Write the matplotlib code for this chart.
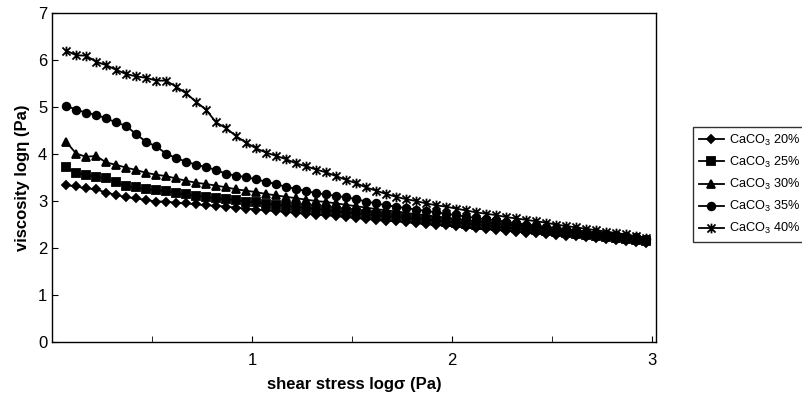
import matplotlib
matplotlib.use("Agg")
import matplotlib.pyplot as plt
from matplotlib.path import Path
from matplotlib.ticker import MultipleLocator

plt.rcParams['font.family'] = ['Liberation Sans', 'DejaVu Sans']

log_stress = [0.07, 0.12, 0.17, 0.22, 0.27, 0.32, 0.37, 0.42, 0.47, 0.52,
              0.57, 0.62, 0.67, 0.72, 0.77, 0.82, 0.87, 0.92, 0.97, 1.02,
              1.07, 1.12, 1.17, 1.22, 1.27, 1.32, 1.37, 1.42, 1.47, 1.52,
              1.57, 1.62, 1.67, 1.72, 1.77, 1.82, 1.87, 1.92, 1.97, 2.02,
              2.07, 2.12, 2.17, 2.22, 2.27, 2.32, 2.37, 2.42, 2.47, 2.52,
              2.57, 2.62, 2.67, 2.72, 2.77, 2.82, 2.87, 2.92, 2.97]

visc_20 = [3.34, 3.31, 3.27, 3.25, 3.18, 3.13, 3.08, 3.06, 3.02, 2.99,
           2.99, 2.96, 2.95, 2.93, 2.91, 2.90, 2.88, 2.86, 2.84, 2.82,
           2.80, 2.79, 2.77, 2.75, 2.73, 2.71, 2.70, 2.68, 2.66, 2.64,
           2.62, 2.60, 2.58, 2.57, 2.55, 2.53, 2.51, 2.49, 2.48, 2.46,
           2.44, 2.42, 2.40, 2.39, 2.37, 2.35, 2.33, 2.32, 2.30, 2.28,
           2.26, 2.25, 2.23, 2.21, 2.19, 2.17, 2.15, 2.13, 2.11]

visc_25 = [3.72, 3.60, 3.55, 3.52, 3.48, 3.41, 3.31, 3.29, 3.25, 3.23,
           3.21, 3.17, 3.14, 3.11, 3.09, 3.06, 3.04, 3.02, 2.99, 2.97,
           2.94, 2.92, 2.90, 2.87, 2.85, 2.83, 2.81, 2.78, 2.76, 2.74,
           2.72, 2.70, 2.68, 2.66, 2.64, 2.62, 2.60, 2.58, 2.56, 2.54,
           2.52, 2.50, 2.48, 2.46, 2.44, 2.42, 2.40, 2.38, 2.36, 2.34,
           2.32, 2.30, 2.28, 2.26, 2.24, 2.22, 2.20, 2.18, 2.16]

visc_30 = [4.26, 4.01, 3.94, 3.96, 3.82, 3.77, 3.71, 3.66, 3.60, 3.56,
           3.53, 3.48, 3.43, 3.39, 3.36, 3.33, 3.29, 3.25, 3.22, 3.19,
           3.15, 3.12, 3.09, 3.06, 3.03, 3.00, 2.98, 2.95, 2.92, 2.89,
           2.86, 2.83, 2.80, 2.78, 2.75, 2.72, 2.70, 2.67, 2.65, 2.62,
           2.60, 2.57, 2.55, 2.52, 2.50, 2.48, 2.45, 2.43, 2.41, 2.38,
           2.36, 2.34, 2.31, 2.29, 2.27, 2.25, 2.22, 2.20, 2.18]

visc_35 = [5.03, 4.94, 4.88, 4.83, 4.76, 4.67, 4.60, 4.42, 4.26, 4.16,
           4.01, 3.91, 3.84, 3.77, 3.72, 3.66, 3.58, 3.54, 3.51, 3.46,
           3.41, 3.36, 3.30, 3.26, 3.21, 3.17, 3.14, 3.11, 3.08, 3.04,
           2.99, 2.95, 2.91, 2.88, 2.85, 2.82, 2.79, 2.76, 2.73, 2.70,
           2.67, 2.64, 2.61, 2.59, 2.56, 2.53, 2.50, 2.48, 2.45, 2.43,
           2.40, 2.38, 2.35, 2.33, 2.30, 2.28, 2.25, 2.23, 2.20]

visc_40 = [6.20, 6.10, 6.09, 5.96, 5.89, 5.79, 5.70, 5.65, 5.62, 5.56,
           5.56, 5.43, 5.29, 5.11, 4.94, 4.67, 4.55, 4.38, 4.24, 4.12,
           4.03, 3.96, 3.89, 3.80, 3.74, 3.67, 3.61, 3.53, 3.45, 3.38,
           3.29, 3.22, 3.15, 3.09, 3.04, 3.00, 2.95, 2.91, 2.88, 2.84,
           2.80, 2.76, 2.73, 2.70, 2.66, 2.63, 2.60, 2.57, 2.54, 2.50,
           2.47, 2.44, 2.41, 2.38, 2.35, 2.32, 2.29, 2.25, 2.22]

labels = ["CaCO$_\\mathregular{3}$ 20%", "CaCO$_\\mathregular{3}$ 25%",
          "CaCO$_\\mathregular{3}$ 30%", "CaCO$_\\mathregular{3}$ 35%",
          "CaCO$_\\mathregular{3}$ 40%"]

star = Path([(-1, -1), (1, 1), (-1, 1), (1, -1), (0, -1.2), (0, 1.2)],
            [Path.MOVETO, Path.LINETO, Path.MOVETO, Path.LINETO,
             Path.MOVETO, Path.LINETO])

series = [visc_20, visc_25, visc_30, visc_35, visc_40]
markers = ['D', 's', '^', 'o', star]
msizes = [4.5, 5.5, 6, 5.5, 7]

fig = plt.figure(figsize=(8.02, 4.03), dpi=100)
ax = fig.add_axes([0.065, 0.151, 0.753, 0.817])

for ys, lab, m, ms in zip(series, labels, markers, msizes):
    ax.plot(log_stress, ys, color='black', lw=1.3, marker=m, ms=ms,
            mfc='black', mec='black', mew=1.3, label=lab)

ax.set_xlim(0, 3.02)
ax.set_ylim(0, 7)
ax.set_xticks([1, 2, 3])
ax.xaxis.set_minor_locator(MultipleLocator(0.5))
ax.set_yticks(range(0, 8))
ax.tick_params(axis='both', which='both', direction='in', labelsize=12)
ax.tick_params(which='major', length=4)
ax.tick_params(which='minor', length=4)
ax.tick_params(axis='x', pad=8)
for s in ax.spines.values():
    s.set_linewidth(1.0)

ax.set_xlabel("shear stress log\u03c3 (Pa)", fontsize=12, fontweight='bold', labelpad=6)
ax.set_ylabel("viscosity log\u03b7 (Pa)", fontsize=12, fontweight='bold', labelpad=6)

leg = fig.legend(loc='center left', bbox_to_anchor=(0.864, 0.542), fontsize=9.2,
                 frameon=True, fancybox=False, edgecolor='black', borderpad=0.45,
                 borderaxespad=0, labelspacing=0.55, handlelength=2.0,
                 handletextpad=0.35)
leg.get_frame().set_linewidth(1.0)

fig.savefig("out.png", dpi=100)
